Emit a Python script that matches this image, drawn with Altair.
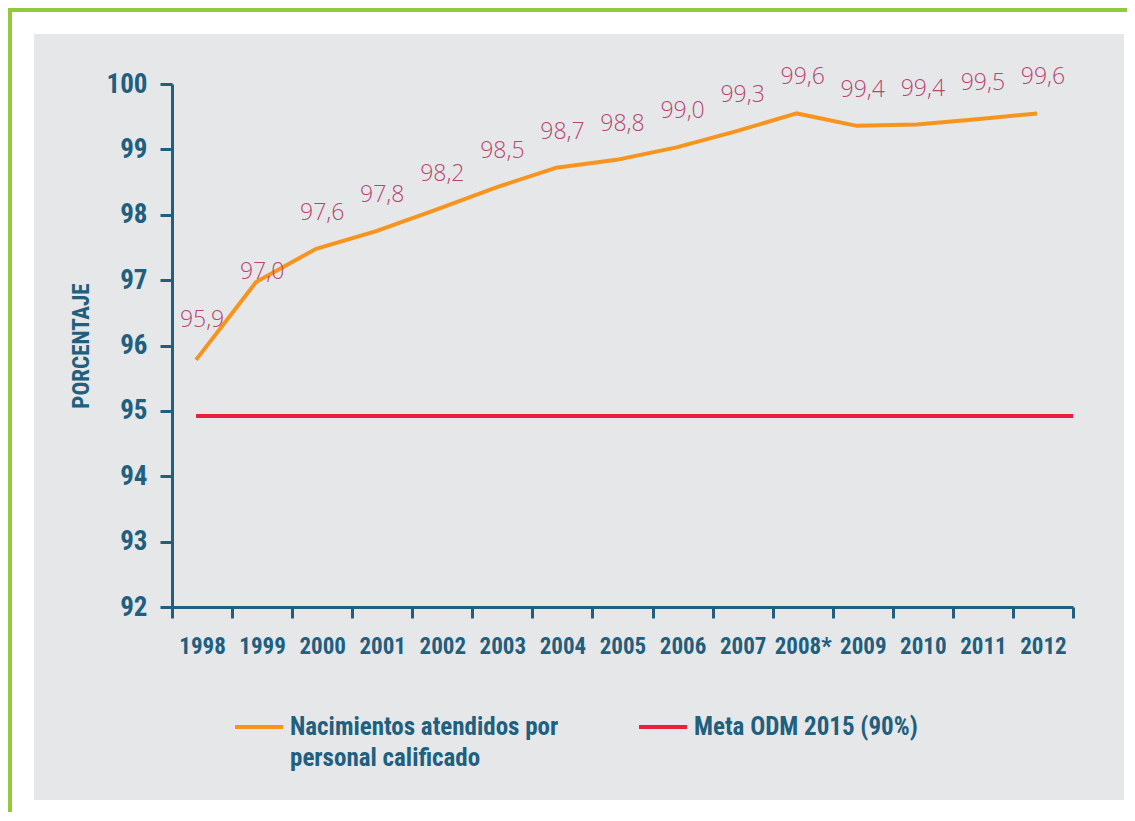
import altair as alt
import pandas as pd

years = ["1998", "1999", "2000", "2001", "2002", "2003", "2004", "2005",
         "2006", "2007", "2008*", "2009", "2010", "2011", "2012"]
values = [95.78, 96.97, 97.48, 97.75, 98.08, 98.42, 98.72, 98.84,
          99.03, 99.28, 99.55, 99.36, 99.38, 99.46, 99.55]
value_labels = ["95,9", "97,0", "97,6", "97,8", "98,2", "98,5", "98,7", "98,8",
                "99,0", "99,3", "99,6", "99,4", "99,4", "99,5", "99,6"]
meta_value = 94.92
series_names = ["Nacimientos atendidos por|personal calificado",
                "Meta ODM 2015 (90%)| "]
y_ticks = [92, 93, 94, 95, 96, 97, 98, 99, 100]

TEAL = "#215f7f"
ORANGE = "#f7941d"
RED = "#ee1d3d"
PINK = "#b8456f"
GREEN = "#94c93d"
GRAY = "#e6e7e9"
NARROW = "'Roboto Condensed', 'Liberation Sans Narrow', 'Roboto', sans-serif"
LIGHT = "'Open Sans', 'Noto Sans', sans-serif"

W, H = 901, 523

df = pd.DataFrame({"year": years, "value": values, "label": value_labels,
                   "serie": series_names[0]})
meta_df = pd.DataFrame({"start": [years[0]], "end": [years[-1]],
                        "value": [meta_value], "serie": [series_names[1]]})
dummy = pd.DataFrame({"a": [0]})

xscale = alt.Scale(domain=years, paddingInner=0, paddingOuter=0)
yscale = alt.Scale(domain=[92, 100], nice=False, zero=False)
cscale = alt.Scale(domain=series_names, range=[ORANGE, RED])

# decorative frame (green border, white margin, gray panel)
green = alt.Chart(dummy).mark_rect(color=GREEN).encode(
    x=alt.value(-164), x2=alt.value(955), y=alt.value(-76), y2=alt.value(728))
white = alt.Chart(dummy).mark_rect(color="white").encode(
    x=alt.value(-160), x2=alt.value(955), y=alt.value(-72), y2=alt.value(728))
gray = alt.Chart(dummy).mark_rect(color=GRAY).encode(
    x=alt.value(-138), x2=alt.value(952), y=alt.value(-50), y2=alt.value(716))

xaxis = alt.Axis(title=None, tickBand="extent", labelAngle=0, labelAlign="center",
                 labelFont=NARROW, labelFontSize=23, labelFontWeight="bold",
                 labelColor=TEAL, labelPadding=28, tickSize=11, tickWidth=3,
                 tickColor=TEAL, domainColor=TEAL, domainWidth=3, grid=False,
                 zindex=1)
yaxis = alt.Axis(title="PORCENTAJE", values=y_ticks, format="d", labelFont=NARROW,
                 labelFontSize=27, labelFontWeight="bold", labelColor=TEAL,
                 labelPadding=13, tickSize=12, tickWidth=3, tickColor=TEAL,
                 domainColor=TEAL, domainWidth=3, grid=False, zindex=1,
                 titleFont=NARROW, titleFontSize=23, titleFontWeight="bold",
                 titleColor=TEAL, titlePadding=13)

legend = alt.Legend(title=None, orient="none", legendX=61, legendY=617,
                    direction="horizontal", symbolType="stroke",
                    symbolStrokeWidth=4, symbolSize=2304, labelFont=NARROW,
                    labelFontSize=25, labelFontWeight="bold", labelColor=TEAL,
                    labelOffset=5, labelLimit=400, columnPadding=72,
                    labelExpr="split(datum.label, '|')",
                    labelBaseline="middle", padding=0, zindex=1)

line = alt.Chart(df).mark_line(strokeWidth=4).encode(
    x=alt.X("year:N", scale=xscale, axis=xaxis, sort=years, bandPosition=0.4),
    y=alt.Y("value:Q", scale=yscale, axis=yaxis),
    color=alt.Color("serie:N", scale=cscale, legend=legend),
)

meta = alt.Chart(meta_df).mark_rule(strokeWidth=4).encode(
    x=alt.X("start:N", scale=xscale, sort=years, bandPosition=0.4),
    x2=alt.X2("end", bandPosition=1),
    y=alt.Y("value:Q", scale=yscale),
    color=alt.Color("serie:N", scale=cscale, legend=legend),
)


def label_layer(test, dy):
    return alt.Chart(df).transform_filter(test).mark_text(
        font=LIGHT, fontSize=23, fontWeight=300, color=PINK,
        baseline="middle", dy=dy).encode(
        x=alt.X("year:N", scale=xscale, sort=years),
        y=alt.Y("value:Q", scale=yscale),
        text="label:N",
    )


texts_main = label_layer("datum.year !== '1998' && datum.year !== '1999'", -36)
text_1998 = label_layer("datum.year === '1998'", -40)
text_1999 = label_layer("datum.year === '1999'", -10)

chart = alt.layer(green, white, gray, meta, line, texts_main, text_1998,
                  text_1999).properties(
    width=W, height=H, padding=0, background="white"
).configure(
    style={"guide-label": {"lineHeight": 31}}
).configure_view(stroke=None)

chart.save("out.html", embed_options={"renderer": "svg", "actions": False})
